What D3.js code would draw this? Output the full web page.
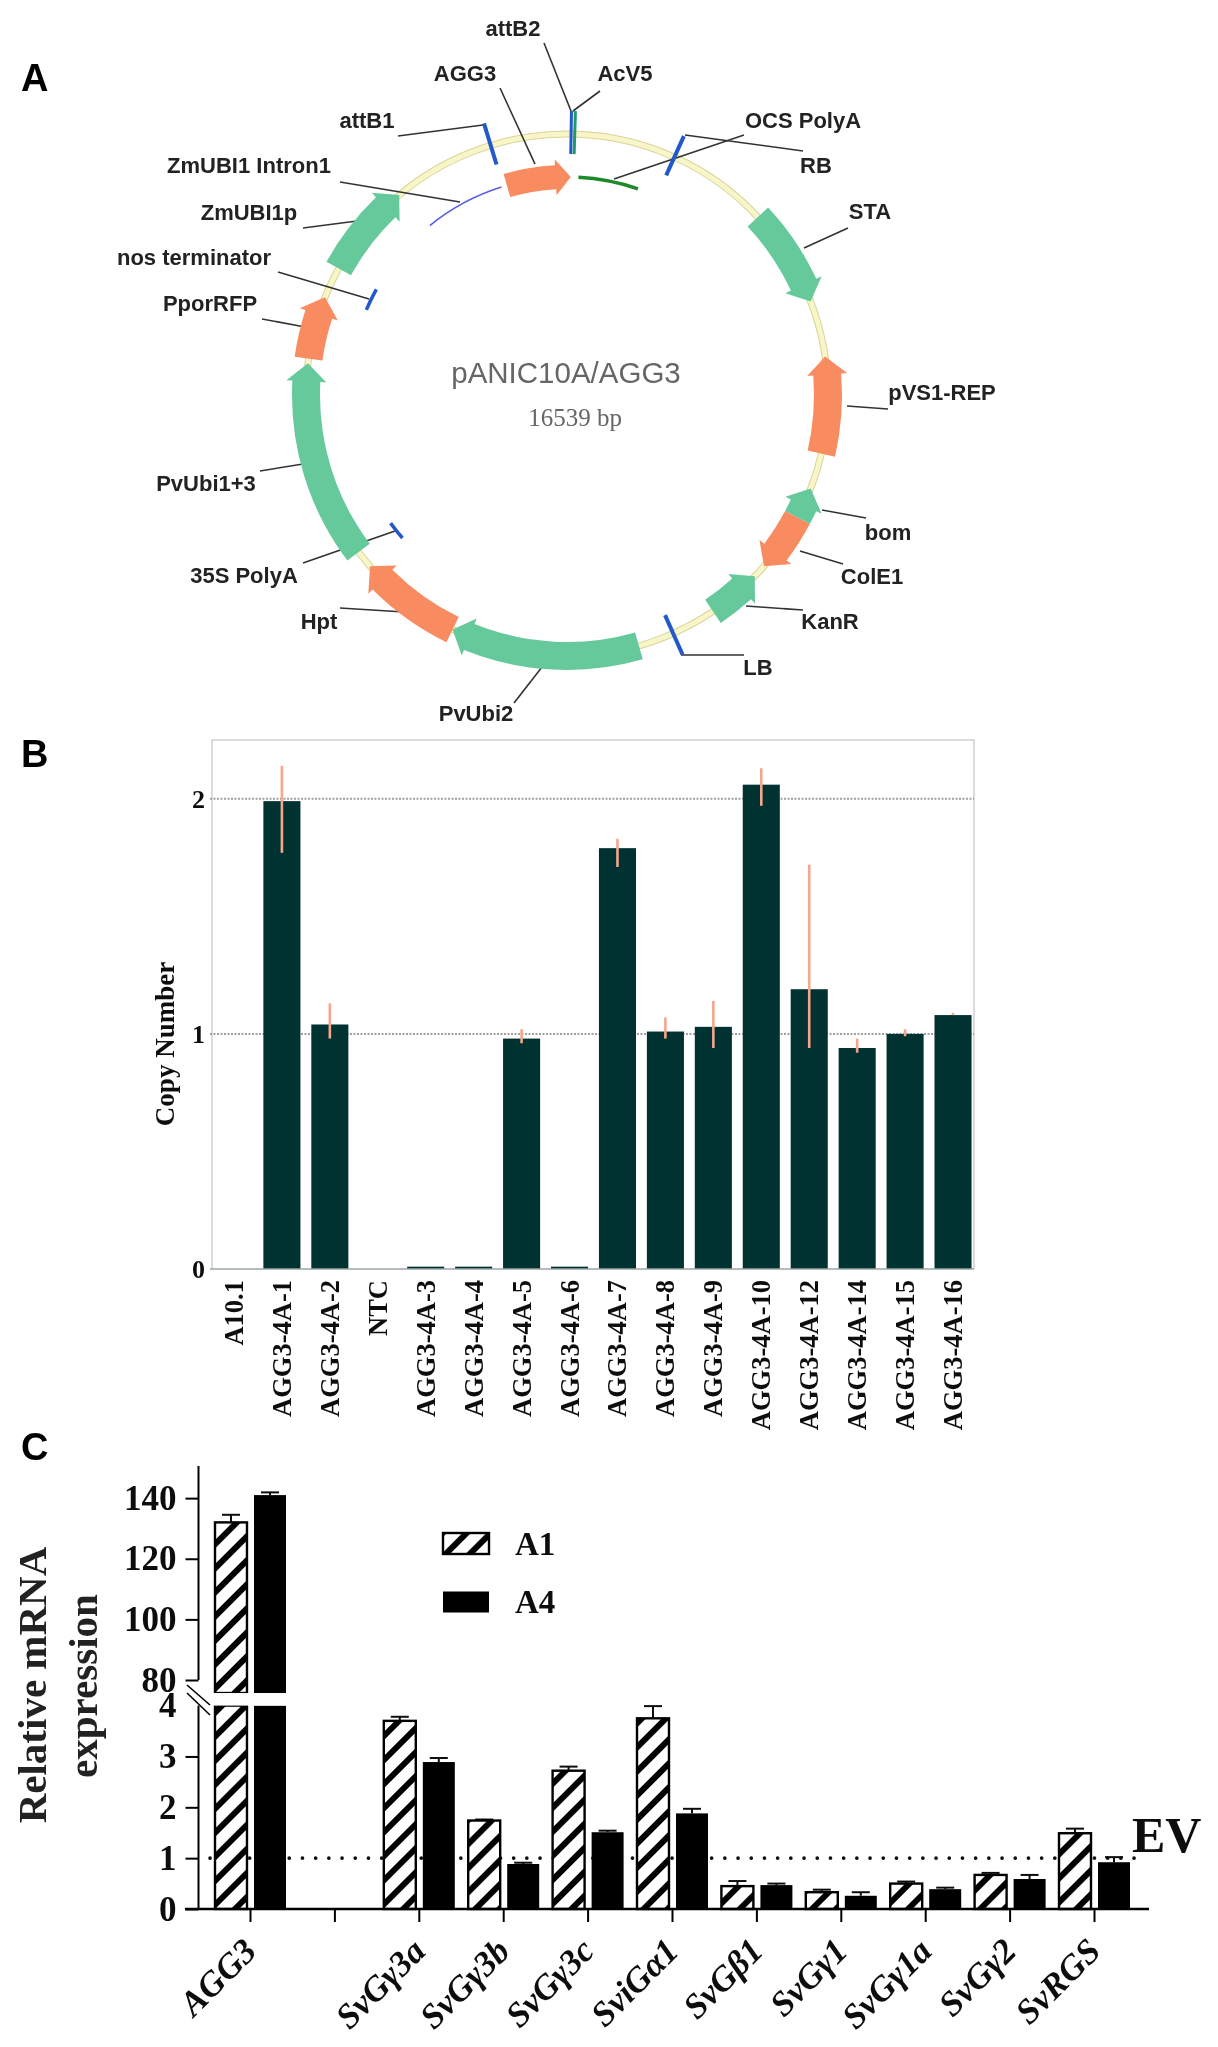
<!DOCTYPE html>
<html>
<head>
<meta charset="utf-8">
<script src="https://cdn.jsdelivr.net/npm/d3@7"></script>
<style>
  html, body { margin: 0; padding: 0; background: #fff; }
  svg { display: block; }
  .sans { font-family: "Liberation Sans", Arial, sans-serif; }
  .serif { font-family: "Liberation Serif", "Times New Roman", serif; }
</style>
</head>
<body>
<svg id="chart" width="1218" height="2047"></svg>
<script>
// Panel A: features of the plasmid, angles read in degrees clockwise from the top
const arrowNames = ['AGG3', 'STA', 'pVS1-REP', 'bom', 'ColE1', 'KanR', 'PvUbi2', 'Hpt', 'PvUbi1+3', 'PporRFP', 'ZmUBI1p'];
const arrowStart = [-16, 47, 103, 118, 118, 146, 164, 206, 233, 278, 299];
const arrowEnd = [1, 69, 81.5, 111, 131, 134, 206, 229, 277, 292, 320];
const arrowKind = ['orange', 'green', 'orange', 'green', 'orange', 'green', 'green', 'orange', 'green', 'orange', 'green'];

const siteNames = ['attB1', 'attB2', 'AcV5', 'RB', 'LB'];
const siteAngle = [-17, 0.9, 1.7, 24.3, 156];
const siteColor = ['#2458c8', '#2458c8', '#1f9a6a', '#2458c8', '#2458c8'];

const innerNames = ['ZmUBI1 Intron1', 'OCS PolyA', 'nos terminator', '35S PolyA'];
const innerStart = [-39, 3, -67, -131];
const innerEnd = [-17.5, 19, -61, -126];
const innerColor = ['#5d5ae6', '#1e8a2c', '#2458c8', '#2458c8'];
const innerWidth = [1.5, 3.5, 3.5, 3.5];

const mapLabels = ['attB2', 'AcV5', 'AGG3', 'attB1', 'OCS PolyA', 'RB', 'ZmUBI1 Intron1', 'STA', 'ZmUBI1p',
  'nos terminator', 'PporRFP', 'pVS1-REP', 'PvUbi1+3', 'bom', '35S PolyA', 'ColE1', 'KanR', 'Hpt', 'LB', 'PvUbi2'];

// Panel B
const copyCats = ['A10.1', 'AGG3-4A-1', 'AGG3-4A-2', 'NTC', 'AGG3-4A-3', 'AGG3-4A-4', 'AGG3-4A-5', 'AGG3-4A-6',
  'AGG3-4A-7', 'AGG3-4A-8', 'AGG3-4A-9', 'AGG3-4A-10', 'AGG3-4A-12', 'AGG3-4A-14', 'AGG3-4A-15', 'AGG3-4A-16'];
const copyValues = [0, 1.99, 1.04, 0, 0.01, 0.01, 0.98, 0.01, 1.79, 1.01, 1.03, 2.06, 1.19, 0.94, 1.0, 1.08];
const copyErrHigh = [0, 2.14, 1.13, 0, 0.01, 0.01, 1.02, 0.01, 1.83, 1.07, 1.14, 2.13, 1.72, 0.98, 1.02, 1.09];
const copyErrLow = [0, 1.77, 0.98, 0, 0.01, 0.01, 0.96, 0.01, 1.71, 0.98, 0.94, 1.97, 0.94, 0.92, 0.99, 1.08];
const copyTicks = [0, 1, 2];

// Panel C
const geneCats = ['AGG3', ' ', 'SvGγ3a', 'SvGγ3b', 'SvGγ3c', 'SviGα1', 'SvGβ1', 'SvGγ1', 'SvGγ1a', 'SvGγ2', 'SvRGS'];
const a1Values = [132, null, 3.7, 1.74, 2.72, 3.75, 0.45, 0.33, 0.5, 0.67, 1.49];
const a1Err = [134.5, null, 3.78, 1.76, 2.8, 3.99, 0.55, 0.38, 0.54, 0.71, 1.58];
const a4Values = [141, null, 2.89, 0.885, 1.51, 1.88, 0.47, 0.26, 0.39, 0.59, 0.92];
const a4Err = [141.9, null, 2.97, 0.91, 1.54, 1.97, 0.5, 0.33, 0.42, 0.67, 1.02];
const lowTicks = [0, 1, 2, 3, 4];
const highTicks = [80, 100, 120, 140];
const seriesNames = ['A1', 'A4'];
const evLevel = 1;

const svg = d3.select('#chart');
const defs = svg.append('defs');

// hatch used by the A1 bars
defs.append('pattern')
  .attr('id', 'hatch')
  .attr('patternUnits', 'userSpaceOnUse')
  .attr('width', 17).attr('height', 17)
  .attr('patternTransform', 'rotate(-45)')
  .call(p => p.append('rect').attr('width', 17).attr('height', 17).attr('fill', '#fff'))
  .call(p => p.append('rect').attr('width', 17).attr('height', 6).attr('fill', '#000'));

// the source is a soft scan, so everything gets a very light blur
defs.append('filter').attr('id', 'soft')
  .attr('x', 0).attr('y', 0).attr('width', 1).attr('height', 1)
  .attr('filterUnits', 'userSpaceOnUse')
  .attr('width', 1218).attr('height', 2047)
  .append('feGaussianBlur').attr('stdDeviation', 0.45);

const root = svg.append('g').attr('filter', 'url(#soft)');

// panel letters
root.selectAll('.panel-letter')
  .data([['A', 91], ['B', 767], ['C', 1460]])
  .join('text')
  .attr('class', 'panel-letter sans')
  .attr('x', 21)
  .attr('y', d => d[1])
  .attr('font-size', 38)
  .attr('font-weight', 700)
  .text(d => d[0]);

// ---- Panel A ----
const cx = 567, cy = 395, ringR = 261, innerR = 218;
const angle = d3.scaleLinear().domain([0, 360]).range([0, 2 * Math.PI]);
const arrowColor = { green: '#66c99b', orange: '#f98b60' };
const mapG = root.append('g');

function polar(r, deg) {
  const a = angle(deg) - Math.PI / 2;
  return [cx + r * Math.cos(a), cy + r * Math.sin(a)];
}

function arrowPath(start, end, r) {
  const dir = end > start ? 1 : -1;
  const bodyHalf = r === ringR ? 14 : 12;
  const headHalf = r === ringR ? 20 : 18;
  const headDeg = 4;
  const base = end - dir * headDeg;
  const p = d3.path();
  p.moveTo(...polar(r + bodyHalf, start));
  p.arc(cx, cy, r + bodyHalf, angle(start) - Math.PI / 2, angle(base) - Math.PI / 2, dir < 0);
  p.lineTo(...polar(r + headHalf, base));
  p.lineTo(...polar(r, end));
  p.lineTo(...polar(r - headHalf, base));
  p.lineTo(...polar(r - bodyHalf, base));
  p.arc(cx, cy, r - bodyHalf, angle(base) - Math.PI / 2, angle(start) - Math.PI / 2, dir > 0);
  p.closePath();
  return p.toString();
}

function arcPath(start, end, r) {
  const p = d3.path();
  p.moveTo(...polar(r, start));
  p.arc(cx, cy, r, angle(start) - Math.PI / 2, angle(end) - Math.PI / 2, false);
  return p.toString();
}

// backbone
mapG.append('circle').attr('cx', cx).attr('cy', cy).attr('r', ringR)
  .attr('fill', 'none').attr('stroke', '#d9d49a').attr('stroke-width', 7);
mapG.append('circle').attr('cx', cx).attr('cy', cy).attr('r', ringR)
  .attr('fill', 'none').attr('stroke', '#f8f5c8').attr('stroke-width', 5);

// leader lines, hand placed around the ring
const leaders = [
  [544, 43, 571, 111], [600, 91, 573, 111], [500, 88, 535, 164], [398, 136, 483, 125], [744, 135, 614, 179],
  [685, 135, 803, 151], [340, 182, 460, 202], [848, 228, 804, 248], [303, 228, 357, 221], [278, 272, 369, 299],
  [262, 319, 305, 327], [847, 406, 888, 409], [260, 471, 303, 464], [822, 510, 866, 518], [303, 563, 395, 531],
  [800, 551, 843, 564], [746, 606, 803, 610], [340, 608, 404, 612], [681, 655, 744, 655], [514, 703, 542, 667]
];
const labelPos = [
  [513, 28], [625, 73], [465, 73], [367, 120], [803, 120], [816, 165], [249, 165], [870, 211], [249, 212],
  [194, 257], [210, 303], [942, 392], [206, 483], [888, 532], [244, 575], [872, 576], [830, 621], [319, 621],
  [758, 667], [476, 713]
];

mapG.selectAll('.leader')
  .data(leaders)
  .join('line')
  .attr('class', 'leader')
  .attr('x1', d => d[0]).attr('y1', d => d[1])
  .attr('x2', d => d[2]).attr('y2', d => d[3])
  .attr('stroke', '#333').attr('stroke-width', 1.6);

// arrows
mapG.selectAll('.feature')
  .data(arrowNames)
  .join('path')
  .attr('class', 'feature')
  .attr('d', (d, i) => arrowPath(arrowStart[i], arrowEnd[i], d === 'AGG3' ? innerR : ringR))
  .attr('fill', (d, i) => arrowColor[arrowKind[i]]);

// radial sites
mapG.selectAll('.site')
  .data(siteNames)
  .join('line')
  .attr('class', 'site')
  .attr('x1', (d, i) => polar(241, siteAngle[i])[0]).attr('y1', (d, i) => polar(241, siteAngle[i])[1])
  .attr('x2', (d, i) => polar(284, siteAngle[i])[0]).attr('y2', (d, i) => polar(284, siteAngle[i])[1])
  .attr('stroke', (d, i) => siteColor[i])
  .attr('stroke-width', (d, i) => (d === 'attB2' || d === 'AcV5') ? 3 : 4);

// thin inner features
mapG.selectAll('.inner')
  .data(innerNames)
  .join('path')
  .attr('class', 'inner')
  .attr('d', (d, i) => arcPath(innerStart[i], innerEnd[i], innerR))
  .attr('fill', 'none')
  .attr('stroke', (d, i) => innerColor[i])
  .attr('stroke-width', (d, i) => innerWidth[i]);

mapG.selectAll('.map-label')
  .data(mapLabels)
  .join('text')
  .attr('class', 'map-label sans')
  .attr('x', (d, i) => labelPos[i][0])
  .attr('y', (d, i) => labelPos[i][1] + 8)
  .attr('text-anchor', 'middle')
  .attr('font-size', 22)
  .attr('font-weight', 700)
  .attr('fill', '#222')
  .text(d => d);

mapG.append('text').attr('class', 'sans')
  .attr('x', 566).attr('y', 383).attr('text-anchor', 'middle')
  .attr('font-size', 29.5).attr('fill', '#666').text('pANIC10A/AGG3');
mapG.append('text').attr('class', 'serif')
  .attr('x', 575).attr('y', 426).attr('text-anchor', 'middle')
  .attr('font-size', 25).attr('fill', '#666').text('16539 bp');

// ---- Panel B ----
const xB = d3.scaleBand().domain(copyCats).range([210, 977]).paddingInner(0.227).paddingOuter(0.1135);
const yB = d3.scaleLinear().domain([0, 2.25]).range([1269, 740]);
const gB = root.append('g');

// frame
gB.append('path')
  .attr('d', `M212,${yB(0)}V${yB(2.25)}H974V${yB(0)}`)
  .attr('fill', 'none').attr('stroke', '#cfcfcf').attr('stroke-width', 1.5);

gB.selectAll('.grid')
  .data([1, 2])
  .join('line')
  .attr('class', 'grid')
  .attr('x1', 210).attr('x2', 974)
  .attr('y1', d => yB(d)).attr('y2', d => yB(d))
  .attr('stroke', '#a0a0a0').attr('stroke-width', 2).attr('stroke-dasharray', '2 1.5');

gB.selectAll('.copy-bar')
  .data(copyCats)
  .join('rect')
  .attr('class', 'copy-bar')
  .attr('x', d => xB(d))
  .attr('width', xB.bandwidth())
  .attr('y', (d, i) => yB(copyValues[i]))
  .attr('height', (d, i) => yB(0) - yB(copyValues[i]))
  .attr('fill', '#033232');

gB.selectAll('.copy-err')
  .data(copyCats)
  .join('line')
  .attr('class', 'copy-err')
  .attr('x1', d => xB(d) + xB.bandwidth() / 2)
  .attr('x2', d => xB(d) + xB.bandwidth() / 2)
  .attr('y1', (d, i) => yB(copyErrHigh[i]))
  .attr('y2', (d, i) => yB(copyErrLow[i]))
  .attr('stroke', '#f4a78c').attr('stroke-width', 2.6);

gB.append('line').attr('x1', 210).attr('x2', 974).attr('y1', yB(0)).attr('y2', yB(0))
  .attr('stroke', '#9aa5a5').attr('stroke-width', 1.5);

gB.append('g')
  .attr('transform', `translate(212,0)`)
  .call(d3.axisLeft(yB).tickValues(copyTicks).tickSize(0).tickPadding(7).tickFormat(d3.format('d')))
  .call(g => g.select('.domain').remove())
  .call(g => g.selectAll('text').attr('class', 'serif').attr('font-size', 26).attr('font-weight', 700)
    .attr('font-family', '"Liberation Serif", serif').attr('fill', '#111'));

gB.append('g')
  .attr('transform', `translate(0,${yB(0)})`)
  .call(d3.axisBottom(xB).tickSize(0).tickPadding(0))
  .call(g => g.select('.domain').remove())
  .call(g => g.selectAll('text')
    .attr('font-family', '"Liberation Serif", serif').attr('font-size', 26.5).attr('font-weight', 700).attr('fill', '#111')
    .attr('text-anchor', 'end').attr('dy', null)
    .attr('transform', 'translate(9,11) rotate(-90)').attr('x', 0).attr('y', 0));

gB.append('text').attr('class', 'serif')
  .attr('transform', 'translate(174,1044) rotate(-90)')
  .attr('text-anchor', 'middle').attr('font-size', 27).attr('font-weight', 700).attr('fill', '#111')
  .text('Copy Number');

// ---- Panel C ----
const xC = d3.scalePoint().domain(geneCats).range([250, 1094]);
const seriesBand = d3.scaleBand().domain(seriesNames).range([-35, 36]).paddingInner(0.18);
const yLow = d3.scaleLinear().domain([0, 4]).range([1909, 1705.6]);
const yHigh = d3.scaleLinear().domain([80, 150.6]).range([1680, 1466]);
const breakBottom = 4;    // lower segment stops here
const breakTop = 75.7;    // upper segment of a tall bar starts here
const gC = root.append('g');

// EV reference line sits behind the bars
gC.append('line')
  .attr('x1', 210).attr('x2', 1141)
  .attr('y1', yLow(evLevel)).attr('y2', yLow(evLevel))
  .attr('stroke', '#111').attr('stroke-width', 3.6)
  .attr('stroke-linecap', 'round').attr('stroke-dasharray', '0.1 13.1');

const seriesData = [
  { name: 'A1', values: a1Values, err: a1Err, fill: 'url(#hatch)' },
  { name: 'A4', values: a4Values, err: a4Err, fill: '#000' }
];

seriesData.forEach(s => {
  const g = gC.append('g');
  const rows = geneCats
    .map((c, i) => ({ c, v: s.values[i], e: s.err[i] }))
    .filter(d => d.v !== null);
  const left = d => xC(d.c) + seriesBand(s.name);
  const mid = d => left(d) + seriesBand.bandwidth() / 2;
  const errY = d => d.e > breakBottom ? yHigh(d.e) : yLow(d.e);
  const topY = d => d.v > breakBottom ? yHigh(d.v) : yLow(d.v);

  // error bars first so the bar covers their lower half
  g.selectAll('.stem').data(rows).join('line').attr('class', 'stem')
    .attr('x1', mid).attr('x2', mid).attr('y1', errY).attr('y2', topY)
    .attr('stroke', '#111').attr('stroke-width', 2);
  g.selectAll('.cap').data(rows).join('line').attr('class', 'cap')
    .attr('x1', d => mid(d) - 9).attr('x2', d => mid(d) + 9).attr('y1', errY).attr('y2', errY)
    .attr('stroke', '#111').attr('stroke-width', 2);

  const stroke = s.name === 'A1' ? '#000' : 'none';
  g.selectAll('.bar-low').data(rows).join('rect').attr('class', 'bar-low')
    .attr('x', left).attr('width', seriesBand.bandwidth())
    .attr('y', d => yLow(Math.min(d.v, breakBottom)))
    .attr('height', d => yLow(0) - yLow(Math.min(d.v, breakBottom)))
    .attr('fill', s.fill).attr('stroke', stroke).attr('stroke-width', 2.4);
  g.selectAll('.bar-high').data(rows.filter(d => d.v > breakBottom)).join('rect').attr('class', 'bar-high')
    .attr('x', left).attr('width', seriesBand.bandwidth())
    .attr('y', d => yHigh(d.v))
    .attr('height', d => yHigh(breakTop) - yHigh(d.v))
    .attr('fill', s.fill).attr('stroke', stroke).attr('stroke-width', 2.4);
});

// white gap across the axis break
gC.append('rect').attr('x', 208).attr('width', 80)
  .attr('y', yHigh(breakTop)).attr('height', yLow(breakBottom) - yHigh(breakTop)).attr('fill', '#fff');

function styleC(g) {
  g.select('.domain').remove();
  g.selectAll('.tick line').attr('stroke', '#000').attr('stroke-width', 2);
  g.selectAll('text').attr('font-family', '"Liberation Serif", serif').attr('font-weight', 700).attr('fill', '#111');
}

gC.append('g').attr('transform', 'translate(198.5,0)')
  .call(d3.axisLeft(yLow).tickValues(lowTicks).tickSize(13).tickPadding(9).tickFormat(d3.format('d')))
  .call(styleC)
  .call(g => g.selectAll('text').attr('font-size', 35))
  .call(g => g.selectAll('.tick').filter(d => d === 4).select('line').remove());

gC.append('g').attr('transform', 'translate(198.5,0)')
  .call(d3.axisLeft(yHigh).tickValues(highTicks).tickSize(13).tickPadding(9).tickFormat(d3.format('d')))
  .call(styleC)
  .call(g => g.selectAll('text').attr('font-size', 35));

// axis lines, split at the break
gC.append('line').attr('x1', 198.5).attr('x2', 198.5).attr('y1', yHigh(150.6)).attr('y2', yHigh(80))
  .attr('stroke', '#000').attr('stroke-width', 2);
gC.append('line').attr('x1', 198.5).attr('x2', 198.5).attr('y1', yLow(4)).attr('y2', yLow(0))
  .attr('stroke', '#000').attr('stroke-width', 2);
gC.selectAll('.hash')
  .data([[187, 1685, 210, 1705], [187, 1693, 210, 1715]])
  .join('line')
  .attr('class', 'hash')
  .attr('x1', d => d[0]).attr('y1', d => d[1]).attr('x2', d => d[2]).attr('y2', d => d[3])
  .attr('stroke', '#000').attr('stroke-width', 1.6);

gC.append('g').attr('transform', `translate(0,${yLow(0)})`)
  .call(d3.axisBottom(xC).tickSize(13).tickPadding(4))
  .call(styleC)
  .call(g => g.selectAll('text')
    .attr('font-size', 35).attr('font-style', 'italic')
    .attr('text-anchor', 'end').attr('dy', null).attr('y', 0).attr('x', 0)
    .attr('transform', 'translate(8,44) rotate(-45)'));

gC.append('line').attr('x1', 185).attr('x2', 1149).attr('y1', yLow(0)).attr('y2', yLow(0))
  .attr('stroke', '#000').attr('stroke-width', 2.4);

// legend
const legendY = d3.scalePoint().domain(seriesNames).range([1543.5, 1602]);
seriesData.forEach(s => {
  gC.append('rect')
    .attr('x', 443).attr('width', 46).attr('y', legendY(s.name) - 10.5).attr('height', 21)
    .attr('fill', s.fill)
    .attr('stroke', s.name === 'A1' ? '#000' : 'none').attr('stroke-width', 2.4);
  gC.append('text').attr('class', 'serif')
    .attr('x', 515).attr('y', legendY(s.name) + 11)
    .attr('font-size', 33).attr('font-weight', 700).attr('fill', '#111')
    .text(s.name);
});

gC.append('text').attr('class', 'serif')
  .attr('x', 1132).attr('y', 1852)
  .attr('font-size', 50).attr('font-weight', 700).attr('fill', '#111').text('EV');

gC.append('text').attr('class', 'serif')
  .attr('transform', 'translate(46,1685) rotate(-90)')
  .attr('text-anchor', 'middle').attr('font-size', 41).attr('font-weight', 700).attr('fill', '#222')
  .text('Relative mRNA');
gC.append('text').attr('class', 'serif')
  .attr('transform', 'translate(97,1686) rotate(-90)')
  .attr('text-anchor', 'middle').attr('font-size', 41).attr('font-weight', 700).attr('fill', '#222')
  .text('expression');
</script>
</body>
</html>
